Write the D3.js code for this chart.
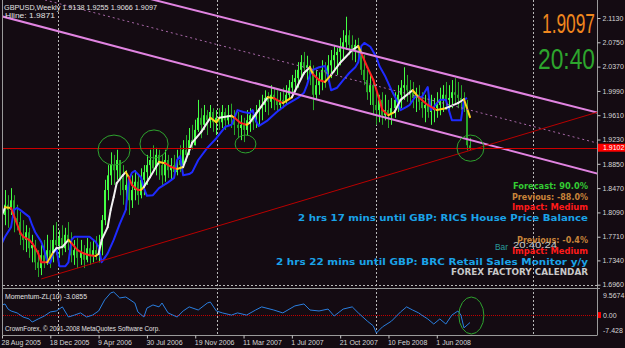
<!DOCTYPE html>
<html>
<head>
<meta charset="utf-8">
<script src="https://cdn.jsdelivr.net/npm/d3@7"></script>
<style>
	body { margin: 0; background: #140b12; }
	svg { display: block; }
</style>
</head>
<body>
<div id="chart-area"></div>
<script>
const WIDTH = 625
const HEIGHT = 348
const PANE = { LEFT: 3, RIGHT: 597, TOP: 0, BOTTOM: 286 }
const SUB = { TOP: 289, BOTTOM: 335 }
const BG = "#140b12"

// weekly GBPUSD bars
const opens = [1.812,1.805,1.821,1.813,1.828,1.800,1.794,1.774,1.766,1.778,
	1.753,1.758,1.731,1.722,1.742,1.731,1.750,1.738,1.766,1.758,
	1.769,1.753,1.774,1.763,1.742,1.750,1.738,1.747,1.735,1.753,
	1.741,1.750,1.744,1.758,1.797,1.844,1.867,1.883,1.875,1.891,
	1.863,1.844,1.852,1.828,1.844,1.857,1.836,1.860,1.872,1.883,
	1.891,1.878,1.899,1.883,1.867,1.891,1.875,1.883,1.872,1.891,
	1.883,1.907,1.899,1.922,1.914,1.938,1.957,1.946,1.961,1.953,
	1.966,1.950,1.957,1.950,1.966,1.953,1.961,1.957,1.946,1.941,
	1.946,1.938,1.953,1.961,1.950,1.966,1.972,1.977,1.988,1.982,
	1.993,1.985,1.977,1.985,1.982,1.993,2.004,2.013,2.019,2.032,
	2.044,2.035,2.039,2.024,1.993,2.008,2.016,2.032,2.028,2.039,
	2.047,2.055,2.060,2.066,2.075,2.086,2.071,2.063,2.071,2.066,
	2.032,2.016,1.997,2.008,1.977,1.969,1.985,1.961,1.969,1.961,
	1.972,1.985,1.993,2.004,2.008,2.000,1.997,1.988,1.993,1.982,
	1.972,1.977,1.966,1.969,1.972,1.977,1.985,1.993,1.985,1.988,
	1.997,1.993,1.988,1.985,1.972,1.9138]
const highs = [1.828,1.844,1.836,1.847,1.836,1.821,1.810,1.797,1.789,1.785,
	1.774,1.766,1.750,1.758,1.766,1.774,1.766,1.789,1.794,1.781,
	1.789,1.785,1.794,1.778,1.766,1.769,1.766,1.758,1.769,1.763,
	1.766,1.772,1.774,1.805,1.860,1.883,1.903,1.899,1.907,1.891,
	1.883,1.875,1.863,1.867,1.875,1.867,1.878,1.883,1.899,1.907,
	1.914,1.910,1.907,1.899,1.907,1.899,1.894,1.899,1.907,1.914,
	1.922,1.930,1.941,1.946,1.954,1.985,1.972,1.977,1.969,1.977,
	1.972,1.969,1.972,1.977,1.972,1.977,1.979,1.969,1.966,1.961,
	1.957,1.969,1.972,1.969,1.977,1.985,1.993,2.000,1.997,2.008,
	2.004,2.000,1.997,2.004,2.008,2.016,2.024,2.032,2.044,2.055,
	2.060,2.054,2.047,2.039,2.032,2.028,2.047,2.044,2.055,2.063,
	2.071,2.066,2.082,2.094,2.115,2.094,2.086,2.079,2.082,2.071,
	2.055,2.032,2.024,2.016,2.000,1.993,1.997,1.993,1.985,1.988,
	1.997,2.008,2.016,2.036,2.024,2.016,2.013,2.004,2.008,1.997,
	1.993,2.004,1.993,1.988,1.997,2.004,2.008,2.013,2.008,2.016,
	2.019,2.013,2.008,1.997,1.985,1.9255]
const lows = [1.774,1.789,1.785,1.805,1.778,1.781,1.758,1.750,1.747,1.738,
	1.731,1.719,1.708,1.711,1.722,1.727,1.722,1.731,1.742,1.738,
	1.742,1.747,1.750,1.731,1.727,1.722,1.727,1.722,1.731,1.727,
	1.731,1.735,1.731,1.742,1.789,1.828,1.852,1.852,1.860,1.836,
	1.821,1.813,1.805,1.816,1.828,1.821,1.831,1.836,1.852,1.863,
	1.872,1.867,1.860,1.852,1.857,1.863,1.860,1.863,1.867,1.872,
	1.878,1.888,1.899,1.907,1.914,1.935,1.925,1.938,1.930,1.941,
	1.935,1.930,1.938,1.941,1.938,1.946,1.941,1.930,1.925,1.922,
	1.919,1.930,1.935,1.938,1.941,1.946,1.953,1.966,1.961,1.972,
	1.969,1.966,1.969,1.972,1.977,1.985,1.993,1.997,2.004,2.019,
	2.024,2.016,2.008,1.969,1.985,1.993,2.000,2.004,2.013,2.019,
	2.028,2.024,2.039,2.047,2.063,2.055,2.047,2.044,2.050,2.024,
	2.008,1.985,1.977,1.961,1.946,1.950,1.946,1.953,1.941,1.946,
	1.957,1.966,1.972,1.985,1.982,1.977,1.972,1.966,1.969,1.957,
	1.950,1.957,1.946,1.950,1.957,1.961,1.966,1.969,1.966,1.972,
	1.977,1.972,1.969,1.966,1.906,1.9066]
const closes = [1.805,1.821,1.813,1.828,1.800,1.794,1.774,1.766,1.778,1.753,
	1.758,1.731,1.722,1.742,1.731,1.750,1.738,1.766,1.758,1.769,
	1.753,1.774,1.763,1.742,1.750,1.738,1.747,1.735,1.753,1.741,
	1.750,1.744,1.758,1.797,1.844,1.867,1.883,1.875,1.891,1.863,
	1.844,1.852,1.828,1.844,1.857,1.836,1.860,1.872,1.883,1.891,
	1.878,1.899,1.883,1.867,1.891,1.875,1.883,1.872,1.891,1.883,
	1.907,1.899,1.922,1.914,1.938,1.957,1.946,1.961,1.953,1.966,
	1.950,1.957,1.950,1.966,1.953,1.961,1.957,1.946,1.941,1.946,
	1.938,1.953,1.961,1.950,1.966,1.972,1.977,1.988,1.982,1.993,
	1.985,1.977,1.985,1.982,1.993,2.004,2.013,2.019,2.032,2.044,
	2.035,2.039,2.024,1.993,2.008,2.016,2.032,2.028,2.039,2.047,
	2.055,2.060,2.066,2.075,2.086,2.071,2.063,2.071,2.066,2.032,
	2.016,1.997,2.008,1.977,1.969,1.985,1.961,1.969,1.961,1.972,
	1.985,1.993,2.004,2.008,2.000,1.997,1.988,1.993,1.982,1.972,
	1.977,1.966,1.969,1.972,1.977,1.985,1.993,1.985,1.988,1.997,
	1.993,1.988,1.985,1.972,1.914,1.9097]

// colour-changing moving average (white up / red down)
const maBars = [0,1,3,6,7,9,10,12,13,15,17,18,20,22,23,25,27,29,31,32,
	33,35,36,37,38,40,41,42,43,45,46,47,49,51,52,54,56,58,60,63,
	66,69,71,72,76,77,79,81,82,85,88,90,91,93,96,100,102,103,105,107,
	109,112,116,118,119,121,123,125,126,128,130,132,136,138,141,144,147,148,151,153,155]
const maValues = [1.805,1.817,1.816,1.778,1.771,1.766,1.761,1.745,1.731,1.731,
	1.747,1.753,1.755,1.766,1.761,1.750,1.745,1.742,1.741,1.744,
	1.766,1.786,1.813,1.833,1.855,1.867,1.872,1.864,1.852,1.844,
	1.844,1.849,1.864,1.880,1.888,1.886,1.880,1.877,1.880,1.918,
	1.935,1.957,1.950,1.957,1.960,1.957,1.949,1.946,1.949,1.969,
	1.989,1.988,1.985,1.980,1.989,2.027,2.036,2.025,2.016,2.013,
	2.024,2.043,2.063,2.069,2.058,2.036,2.016,1.985,1.969,1.961,
	1.966,1.985,2.000,1.989,1.977,1.969,1.972,1.974,1.980,1.986,1.958]

// blue lagging line
const blueBars = [0,1,3,4,5,6,9,10,11,13,14,15,16,17,18,19,21,22,23,24,
	29,31,32,33,34,35,37,39,41,42,43,44,46,47,48,50,52,55,57,58,
	59,60,62,63,65,68,71,74,76,78,80,82,83,84,85,88,91,94,98,100,
	101,102,103,105,107,108,109,111,113,115,117,118,119,120,122,124,125,127,129,131,
	132,134,135,137,139,141,142,143,145,147,148,149,152,153,154]
const blueValues = [1.761,1.771,1.786,1.813,1.816,1.813,1.802,1.789,1.778,1.763,
	1.750,1.731,1.730,1.745,1.753,1.725,1.725,1.731,1.766,1.771,
	1.771,1.763,1.755,1.731,1.738,1.745,1.766,1.791,1.813,1.860,
	1.871,1.874,1.864,1.847,1.835,1.836,1.847,1.856,1.863,1.891,
	1.897,1.867,1.869,1.872,1.891,1.910,1.925,1.943,1.946,1.969,
	1.966,1.964,1.969,1.953,1.944,1.953,1.966,1.977,1.988,1.996,
	2.008,2.024,2.032,2.036,2.038,2.021,2.000,2.004,2.016,2.027,
	2.036,2.044,2.069,2.074,2.068,2.052,2.038,2.021,2.000,1.982,
	1.969,1.974,1.977,1.991,1.989,2.005,1.969,1.974,1.985,1.985,
	1.969,1.953,1.953,1.985,1.988]

// Momentum-ZL(10) sub window
const momBars = [0,1,2,3,5,7,9,10,12,14,16,18,20,22,24,26,28,30,32,34,
	36,37,39,41,44,45,47,48,50,52,53,55,58,60,62,65,68,69,71,73,
	76,78,81,84,86,90,93,97,100,102,105,108,110,113,116,118,121,123,124,126,
	129,132,134,136,138,139,141,143,145,147,149,151,152,153,155]
const momValues = [4.2,4.6,2.5,1.7,0.9,-0.8,-1.6,-2.9,-1.6,-0.4,
	1.3,1.7,3.4,-0.8,0.0,0.9,-0.8,0.0,1.7,6.3,
	9.2,9.5674,7.1,7.5,5.0,1.3,-0.8,2.9,4.2,3.4,
	5.0,0.9,-0.8,1.7,3.4,2.1,5.0,5.4,1.7,0.9,
	0.0,0.9,0.0,2.1,3.4,2.1,0.9,3.8,4.6,2.1,
	1.7,2.5,-0.4,2.5,3.4,0.9,-2.5,-4.5,-7.428,-4.9,
	-2.5,1.3,3.4,2.1,0.9,0.0,-1.6,-3.7,-1.6,-3.7,
	0.0,1.7,0.0,-5.3,-3.0855]

// objects drawn on the chart: [bar, price] anchors
const channelUpper = [[100, 2.0817], [160, 2.0097]]
const channelMid = [[100, 2.0363], [160, 1.9629]]
const channelLower = [[100, 1.9909], [160, 1.9161]]
const trendLine = [[13, 1.705], [155, 1.906]]
const hLinePrice = 1.9102
// ellipses: [bar1, price1, bar2, price2]
const ellipses = [[31.8, 1.930, 42.4, 1.883], [45.7, 1.938, 55, 1.894],
	[77.2, 1.930, 84.1, 1.902], [150.7, 1.930, 159.6, 1.889]]
const subEllipse = [151.3, 7.49, 159.6, -7.84]

// axes
const priceTicks = [2.1130, 2.0750, 2.0370, 1.9990, 1.9610, 1.9230, 1.8850, 1.8470, 1.8090, 1.7710, 1.7340, 1.6960]
const momTicks = [9.5674, 0, -7.428]
const momTickLabels = ["9.5674", "0.00", "-7.428"]
const dateBars = [0, 16, 32, 48, 64, 80, 96, 112, 128, 144]
const dateLabels = ["28 Aug 2005", "18 Dec 2005", "9 Apr 2006", "30 Jul 2006", "19 Nov 2006",
	"11 Mar 2007", "1 Jul 2007", "21 Oct 2007", "10 Feb 2008", "1 Jun 2008"]
const gridBars = [18.5, 71.2, 123.9, 175.9]

const svg = d3.select("#chart-area").append("svg")
	.attr("width", WIDTH)
	.attr("height", HEIGHT)
	.style("font-family", "'Liberation Sans', Arial, sans-serif")

svg.append("rect")
	.attr("width", WIDTH)
	.attr("height", HEIGHT)
	.attr("fill", BG)

// scales
const x = d3.scaleLinear().domain([0, 155]).range([2, 470])
const y = d3.scaleLinear().domain([1.6960, 2.1130]).range([284.7, 18])
const yMom = d3.scaleLinear().domain([-7.428, 9.5674]).range([333, 292])

const defs = svg.append("defs")
defs.append("clipPath").attr("id", "clip-main")
	.append("rect")
	.attr("x", PANE.LEFT).attr("y", PANE.TOP)
	.attr("width", PANE.RIGHT - PANE.LEFT).attr("height", PANE.BOTTOM - PANE.TOP)
defs.append("clipPath").attr("id", "clip-sub")
	.append("rect")
	.attr("x", PANE.LEFT).attr("y", SUB.TOP)
	.attr("width", PANE.RIGHT - PANE.LEFT).attr("height", SUB.BOTTOM - SUB.TOP)

// grid
svg.append("g").selectAll("line")
	.data(gridBars)
	.enter().append("line")
	.attr("x1", d => Math.round(x(d)) + 0.5)
	.attr("x2", d => Math.round(x(d)) + 0.5)
	.attr("y1", PANE.TOP)
	.attr("y2", SUB.BOTTOM)
	.attr("stroke", "#b8b8b8")
	.attr("stroke-dasharray", "2,2")
svg.append("line")
	.attr("x1", PANE.LEFT).attr("x2", PANE.RIGHT)
	.attr("y1", 285.5).attr("y2", 285.5)
	.attr("stroke", "#b8b8b8")
	.attr("stroke-dasharray", "2,2")

const main = svg.append("g").attr("clip-path", "url(#clip-main)")
const sub = svg.append("g").attr("clip-path", "url(#clip-sub)")

// candles
const bars = closes.map((c, i) => ({ i, o: opens[i], h: highs[i], l: lows[i], c }))
const bull = "#44ff44"
const bear = "#28a828"

const candle = main.append("g").selectAll("g")
	.data(bars)
	.enter().append("g")

candle.append("rect")
	.attr("x", d => Math.round(x(d.i)))
	.attr("width", 1)
	.attr("y", d => y(d.h))
	.attr("height", d => y(d.l) - y(d.h))
	.attr("fill", d => d.c >= d.o ? bull : bear)

candle.append("rect")
	.attr("x", d => Math.round(x(d.i)) - 1)
	.attr("width", 2)
	.attr("y", d => y(Math.max(d.o, d.c)))
	.attr("height", d => Math.max(1, Math.abs(y(d.o) - y(d.c))))
	.attr("fill", d => d.c >= d.o ? bull : bear)

// blue line
const priceLine = d3.line()
	.x(d => x(d[0]))
	.y(d => y(d[1]))

main.append("path")
	.attr("fill", "none")
	.attr("stroke", "#1f2bff")
	.attr("stroke-width", 2)
	.attr("stroke-linejoin", "round")
	.attr("d", priceLine(blueBars.map((b, i) => [b, blueValues[i]])))

// coloured MA
let prevDir = 0
const maSegs = d3.pairs(maBars.map((b, i) => [b, maValues[i]])).map(([a, b]) => {
	const dir = Math.sign(b[1] - a[1]) || prevDir
	const turn = prevDir !== 0 && dir !== prevDir
	prevDir = dir
	return { a, b, color: turn ? "#ffd21e" : (dir > 0 ? "#f2f2f2" : "#ff2020") }
})

main.append("g").selectAll("line")
	.data(maSegs)
	.enter().append("line")
	.attr("x1", d => x(d.a[0]))
	.attr("y1", d => y(d.a[1]))
	.attr("x2", d => x(d.b[0]))
	.attr("y2", d => y(d.b[1]))
	.attr("stroke", d => d.color)
	.attr("stroke-width", 2)
	.attr("stroke-linecap", "round")

// line objects
function priceAt(pts, bar) {
	const [b1, p1] = pts[0]
	const [b2, p2] = pts[1]
	return p1 + (p2 - p1) * (bar - b1) / (b2 - b1)
}

function drawRay(pts, fromBar, color, width, dash) {
	main.append("line")
		.attr("x1", x(fromBar))
		.attr("y1", y(priceAt(pts, fromBar)))
		.attr("x2", x(205))
		.attr("y2", y(priceAt(pts, 205)))
		.attr("stroke", color)
		.attr("stroke-width", width)
		.attr("stroke-dasharray", dash)
}

drawRay(channelUpper, -5, "#e184e1", 2, null)
drawRay(channelLower, -5, "#e184e1", 2, null)
drawRay(channelMid, -5, "#a868a8", 1, "2,3")
drawRay(trendLine, trendLine[0][0], "#b80000", 1, null)

main.append("line")
	.attr("x1", PANE.LEFT).attr("x2", PANE.RIGHT)
	.attr("y1", Math.round(y(hLinePrice)) + 0.5)
	.attr("y2", Math.round(y(hLinePrice)) + 0.5)
	.attr("stroke", "#cc0000")

main.append("g").selectAll("ellipse")
	.data(ellipses)
	.enter().append("ellipse")
	.attr("cx", d => (x(d[0]) + x(d[2])) / 2)
	.attr("cy", d => (y(d[1]) + y(d[3])) / 2)
	.attr("rx", d => (x(d[2]) - x(d[0])) / 2)
	.attr("ry", d => (y(d[3]) - y(d[1])) / 2)
	.attr("fill", "none")
	.attr("stroke", "#2ea32e")

// sub window
sub.append("line")
	.attr("x1", PANE.LEFT).attr("x2", PANE.RIGHT)
	.attr("y1", Math.round(yMom(0)) + 0.5)
	.attr("y2", Math.round(yMom(0)) + 0.5)
	.attr("stroke", "#c00000")
	.attr("stroke-dasharray", "1,1")

const momLine = d3.line()
	.x(d => x(d[0]))
	.y(d => yMom(d[1]))

sub.append("path")
	.attr("fill", "none")
	.attr("stroke", "#2a7fe0")
	.attr("stroke-width", 1)
	.attr("d", momLine(momBars.map((b, i) => [b, momValues[i]])))

sub.append("ellipse")
	.attr("cx", (x(subEllipse[0]) + x(subEllipse[2])) / 2)
	.attr("cy", (yMom(subEllipse[1]) + yMom(subEllipse[3])) / 2)
	.attr("rx", (x(subEllipse[2]) - x(subEllipse[0])) / 2)
	.attr("ry", (yMom(subEllipse[3]) - yMom(subEllipse[1])) / 2)
	.attr("fill", "none")
	.attr("stroke", "#2ea32e")

// frame
const frame = svg.append("g").attr("stroke", "#9a9a9a")
frame.append("line").attr("x1", 2.5).attr("x2", 2.5).attr("y1", 0).attr("y2", SUB.BOTTOM)
frame.append("line").attr("x1", 597.5).attr("x2", 597.5).attr("y1", 0).attr("y2", SUB.BOTTOM)
frame.append("line").attr("x1", 2.5).attr("x2", 600).attr("y1", 288.5).attr("y2", 288.5)
frame.append("line").attr("x1", 2.5).attr("x2", 597.5).attr("y1", 335.5).attr("y2", 335.5)

// price axis
const yAxis = svg.append("g")
	.attr("transform", "translate(597.5, 0)")
	.call(d3.axisRight(y).tickValues(priceTicks).tickSize(3).tickPadding(2).tickFormat(d3.format(".4f")))
yAxis.select(".domain").remove()
yAxis.selectAll("line").attr("stroke", "#c8c8c8")
yAxis.selectAll("text")
	.attr("fill", "#d6d6d6")
	.attr("font-size", "7px")
	.attr("font-family", "'Liberation Sans', Arial, sans-serif")

// momentum axis labels
const momOffsets = [3, 0, -3]
svg.append("g").selectAll("text")
	.data(momTicks)
	.enter().append("text")
	.attr("x", 603)
	.attr("y", (d, i) => yMom(d) + momOffsets[i] + 2.5)
	.attr("fill", "#d6d6d6")
	.attr("font-size", "7px")
	.text((d, i) => momTickLabels[i])
svg.append("rect")
	.attr("x", 598).attr("y", yMom(0) - 3)
	.attr("width", 3).attr("height", 6)
	.attr("fill", "#ff0000")

// price label of horizontal line
svg.append("rect")
	.attr("x", 598).attr("y", y(hLinePrice) - 4)
	.attr("width", 27).attr("height", 8)
	.attr("fill", "#ff0000")
svg.append("text")
	.attr("x", 603).attr("y", y(hLinePrice) + 2.5)
	.attr("fill", "#ffffff")
	.attr("font-size", "7px")
	.text(hLinePrice.toFixed(4))

// date axis
const xAxis = svg.append("g")
	.attr("transform", `translate(0, ${SUB.BOTTOM + 0.5})`)
	.call(d3.axisBottom(x).tickValues(dateBars).tickSize(3).tickPadding(2).tickFormat((d, i) => dateLabels[i]))
xAxis.select(".domain").remove()
xAxis.selectAll("line").attr("stroke", "#c8c8c8")
xAxis.selectAll("text")
	.attr("fill", "#d6d6d6")
	.attr("font-size", "7px")
	.attr("font-family", "'Liberation Sans', Arial, sans-serif")
	.attr("text-anchor", "start")
	.attr("dx", -1)

// texts
function addText(tx, ty, str, opts) {
	const t = svg.append("text")
		.attr("x", tx)
		.attr("y", ty)
		.attr("fill", opts.color)
		.attr("font-size", opts.size + "px")
		.attr("text-anchor", opts.anchor || "start")
		.text(str)
	if (opts.bold) t.attr("font-weight", "bold").attr("font-family", "'DejaVu Sans', sans-serif")
	if (opts.len) t.attr("textLength", opts.len).attr("lengthAdjust", "spacingAndGlyphs")
	return t
}

addText(4, 10, "GBPUSD,Weekly  1.9138 1.9255 1.9066 1.9097", { color: "#e2e2e2", size: 7.5, len: 153 })
addText(5, 18, "Hline: 1.9871", { color: "#e2e2e2", size: 7.5, len: 50 })
addText(5, 299, "Momentum-ZL(10) -3.0855", { color: "#e2e2e2", size: 7.5, len: 82 })
addText(5, 331, "CrownForex, \u00a9 2001-2008 MetaQuotes Software Corp.", { color: "#e2e2e2", size: 7.5, len: 155 })

addText(595, 33, "1.9097", { color: "#f0871e", size: 27, anchor: "end", len: 53 })
addText(595, 69, "20:40", { color: "#2da52d", size: 29, anchor: "end", len: 57 })

const R = 588
addText(R, 189, "Forecast: 90.0%", { color: "#33cc33", size: 9.5, bold: true, anchor: "end", len: 75 })
addText(R, 200, "Previous: -88.0%", { color: "#c8843a", size: 9.5, bold: true, anchor: "end", len: 76 })
addText(R, 210, "Impact: Medium", { color: "#ff1a1a", size: 9.5, bold: true, anchor: "end", len: 76 })
addText(R, 221, "2 hrs 17 mins until GBP: RICS House Price Balance", { color: "#1aa3e8", size: 9.5, bold: true, anchor: "end", len: 290 })
addText(R, 243, "Previous: -0.4%", { color: "#c8843a", size: 9.5, bold: true, anchor: "end", len: 71 })
addText(495, 250, "Bar", { color: "#2a9e9e", size: 9, len: 13 })
addText(513, 248, "20:40:24", { color: "#c8c8c8", size: 9, len: 44 })
addText(R, 254, "Impact: Medium", { color: "#ff1a1a", size: 9.5, bold: true, anchor: "end", len: 76 })
addText(R, 265, "2 hrs 22 mins until GBP: BRC Retail Sales Monitor y/y", { color: "#1aa3e8", size: 9.5, bold: true, anchor: "end", len: 312 })
addText(R, 275, "FOREX FACTORY CALENDAR", { color: "#c8c8c8", size: 9.5, bold: true, anchor: "end", len: 137 })
</script>
</body>
</html>
